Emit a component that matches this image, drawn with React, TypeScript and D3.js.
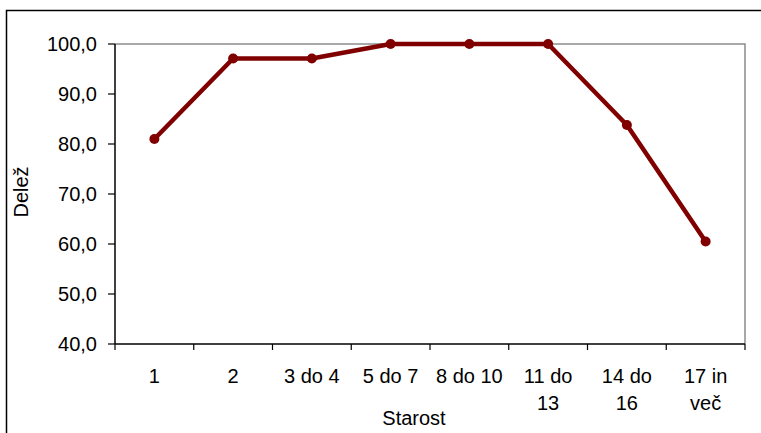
import React from "react";
import * as d3 from "d3";

const categories: string[][] = [
  ["1"],
  ["2"],
  ["3 do 4"],
  ["5 do 7"],
  ["8 do 10"],
  ["11 do", "13"],
  ["14 do", "16"],
  ["17 in", "več"],
];
const shares: number[] = [81.0, 97.1, 97.1, 100.0, 100.0, 100.0, 83.8, 60.5];
const yTicks: number[] = [40, 50, 60, 70, 80, 90, 100];

const W = 761;
const H = 433;
const margin = { left: 115, right: 16, top: 44, bottom: 89 };
const FONT = "Arial, 'Liberation Sans', sans-serif";
const FS = 20;

export default function App() {
  const x = d3
    .scaleBand<number>()
    .domain(categories.map((_, i) => i))
    .range([margin.left, W - margin.right]);
  const y = d3.scaleLinear().domain([40, 100]).range([H - margin.bottom, margin.top]);

  const cx = (i: number) => (x(i) as number) + x.bandwidth() / 2;
  const line = d3
    .line<number>()
    .x((_, i) => cx(i))
    .y((d) => y(d));

  const fmt = (v: number) => v.toFixed(1).replace(".", ",");
  const bottom = H - margin.bottom;
  const right = W - margin.right;
  const boundaries = categories.map((_, i) => x(i) as number).concat([right]);

  return (
    <svg
      width={W}
      height={H}
      style={{ position: "absolute", left: 0, top: 0, background: "#fff" }}
      fontFamily={FONT}
    >
      {/* chart frame */}
      <rect x={6.5} y={10.5} width={W + 10} height={H + 10} fill="none" stroke="#000" strokeWidth={1.5} />
      {/* plot area border */}
      <path
        d={`M${margin.left},${margin.top}H${right}V${bottom}`}
        fill="none"
        stroke="#8c8c8c"
        strokeWidth={1.5}
      />
      {/* y axis */}
      <line x1={margin.left} x2={margin.left} y1={margin.top} y2={bottom} stroke="#000" strokeWidth={1.5} />
      {yTicks.map((t) => (
        <g key={t}>
          <line x1={margin.left - 7} x2={margin.left} y1={y(t)} y2={y(t)} stroke="#000" strokeWidth={1.2} />
          <text x={97} y={y(t)} dy="0.35em" textAnchor="end" fontSize={FS} fill="#000">
            {fmt(t)}
          </text>
        </g>
      ))}
      {/* x axis */}
      <line x1={margin.left} x2={right} y1={bottom} y2={bottom} stroke="#000" strokeWidth={1.5} />
      {boundaries.map((b, i) => (
        <line key={i} x1={b} x2={b} y1={bottom} y2={bottom + 6} stroke="#000" strokeWidth={1.2} />
      ))}
      {categories.map((lines, i) => (
        <text key={i} x={cx(i)} y={383} textAnchor="middle" fontSize={FS} fill="#000">
          {lines.map((l, j) => (
            <tspan key={j} x={cx(i)} dy={j === 0 ? 0 : 27}>
              {l}
            </tspan>
          ))}
        </text>
      ))}
      <text x={414} y={425} textAnchor="middle" fontSize={FS} fill="#000">
        Starost
      </text>
      <text
        transform={`translate(28,192) rotate(-90)`}
        textAnchor="middle"
        fontSize={FS}
        fill="#000"
      >
        Delež
      </text>
      {/* series */}
      <path d={line(shares) || ""} fill="none" stroke="#800000" strokeWidth={4.5} strokeLinejoin="round" />
      {shares.map((v, i) => (
        <circle key={i} cx={cx(i)} cy={y(v)} r={5} fill="#800000" />
      ))}
    </svg>
  );
}
